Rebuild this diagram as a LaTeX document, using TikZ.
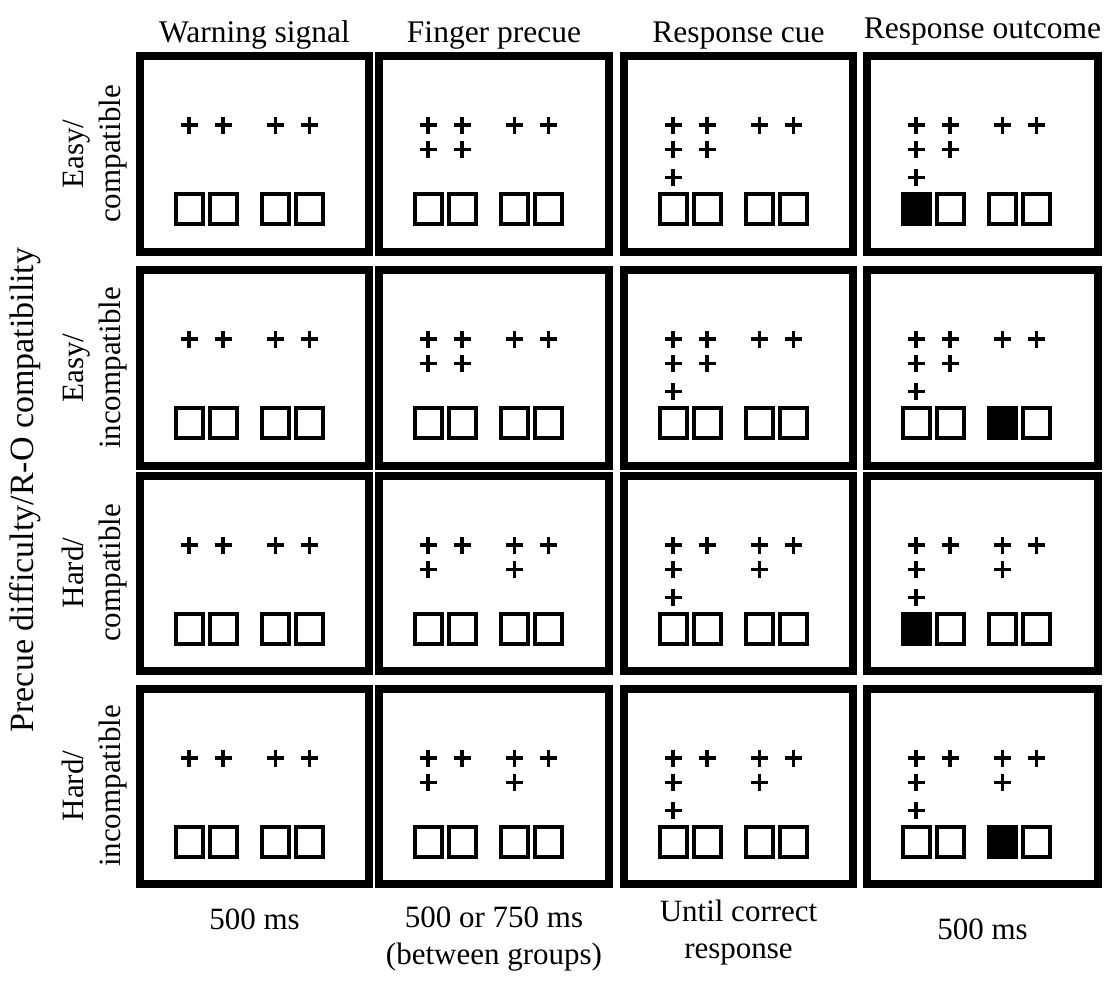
\documentclass[tikz,border=0pt]{standalone}
\usepackage{fontspec}
\setmainfont{Liberation Serif}
\begin{document}
\begin{tikzpicture}[x=1pt,y=-1pt,
  frame/.style={line width=8pt},
  sq/.style={line width=4pt},
  pl/.style={line width=3.6pt},
  hd/.style={font=\fontsize{31.5}{36}\selectfont, inner sep=0pt, anchor=base},
  lbl/.style={font=\fontsize{31}{37}\selectfont, inner sep=0pt, align=center},
  rl/.style={font=\fontsize{31}{37}\selectfont, inner sep=0pt, align=center, rotate=90}]
\useasboundingbox (0,0) rectangle (1110,980);
\newcommand\plusmark[2]{\draw[pl] ({#1-8.5},#2) -- ({#1+8.5},#2) ({#1},{#2-8.5}) -- ({#1},{#2+8.5});}
\newcommand\posx[1]{\pgfmathsetmacro\px{{53,87,139.5,173.5}[#1-1]}}
% #1 left #2 top #3 right #4 bottom #5 second plus of row 2 (0 = no row 2) #6 row 3 (0/1) #7 filled square (0 = none)
\newcommand\drawpanel[7]{%
 \begin{scope}[shift={(#1,#2)}]
  \draw[frame] (4,4) rectangle ({#3-#1-4},{#4-#2-4});
  \foreach \xx in {53,87,139.5,173.5} {
    \draw[sq] ({\xx-13.5},142) rectangle ({\xx+13.5},172);
    \plusmark{\xx}{73}
  }
  \ifnum#5>0 \plusmark{53}{97.5}\posx{#5}\plusmark{\px}{97.5}\fi
  \ifnum#6>0 \plusmark{53}{125.5}\fi
  \ifnum#7>0 \posx{#7}\fill ({\px-15.5},140) rectangle ({\px+15.5},174);\fi
 \end{scope}}
\foreach \top/\bot/\rtwo/\fl in {52/256/2/1, 266/470/2/3, 472/675/3/1, 685/888/3/3} {
  \drawpanel{136}{\top}{373}{\bot}{0}{0}{0}
  \drawpanel{375}{\top}{613}{\bot}{\rtwo}{0}{0}
  \drawpanel{620}{\top}{857}{\bot}{\rtwo}{1}{0}
  \drawpanel{863}{\top}{1102}{\bot}{\rtwo}{1}{\fl}
}
% column headings
\node[hd] (h1) at (254.5,42) {Warning signal};
\node[hd] (h2) at (494,42) {Finger precue};
\node[hd] (h3) at (738.5,42) {Response cue};
\node[hd] (h4) at (982.5,38) {Response outcome};
% row labels
\node[rl] (r1) at (95,154) {Easy/\\compatible};
\node[rl] (r2) at (95,368) {Easy/\\incompatible};
\node[rl] (r3) at (95,573) {Hard/\\compatible};
\node[rl] (r4) at (95,786) {Hard/\\incompatible};
\node[rl, font=\fontsize{34}{40}\selectfont] (main) at (25,490) {Precue difficulty/R-O compatibility};
% durations
\node[lbl] (d1) at (254.5,919) {500 ms};
\node[lbl] (d2) at (494,939) {500 or 750 ms\\(between groups)};
\node[lbl] (d3) at (738.5,933) {Until correct\\response};
\node[lbl] (d4) at (982.5,929) {500 ms};
\end{tikzpicture}
\end{document}
